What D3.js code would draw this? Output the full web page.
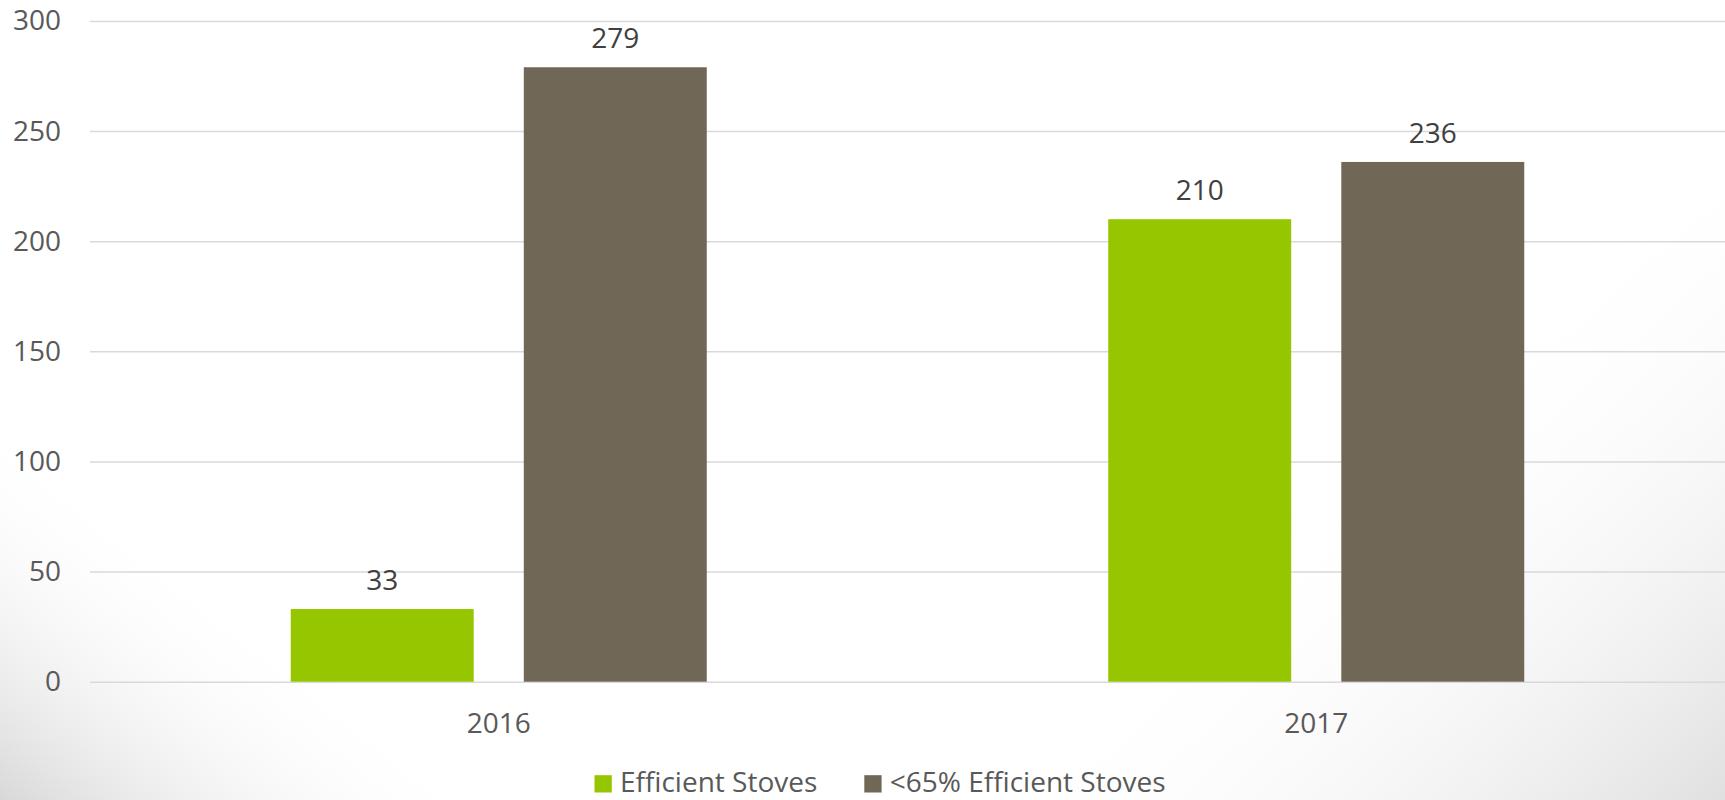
<!DOCTYPE html>
<html>
<head>
<meta charset="utf-8">
<script src="https://cdn.jsdelivr.net/npm/d3@7"></script>
<style>
  body { margin: 0; background: #fff; }
  text { font-family: "Open Sans", "Noto Sans", sans-serif; }
</style>
</head>
<body>
<script>
// Chart data
const years = ["2016", "2017"];
const seriesNames = ["Efficient Stoves", "<65% Efficient Stoves"];
const efficient = [33, 210];
const inefficient = [279, 236];
const yTicks = [0, 50, 100, 150, 200, 250, 300];

const seriesColors = ["#95c600", "#706757"];

const width = 1725;
const height = 800;
const plot = { left: 90, right: 1725, top: 21, bottom: 681.7 };

const svg = d3.select("body")
    .append("svg")
    .attr("width", width)
    .attr("height", height);

// Background shading in the corners
const defs = svg.append("defs");
const shadeBL = defs.append("linearGradient")
    .attr("id", "shadeBL")
    .attr("gradientUnits", "userSpaceOnUse")
    .attr("x1", 0).attr("y1", 800)
    .attr("x2", 190).attr("y2", 560);
shadeBL.append("stop").attr("offset", "0%").attr("stop-color", "#d8d8d8").attr("stop-opacity", 1);
shadeBL.append("stop").attr("offset", "100%").attr("stop-color", "#ffffff").attr("stop-opacity", 0);

const shadeR = defs.append("linearGradient")
    .attr("id", "shadeR")
    .attr("gradientUnits", "userSpaceOnUse")
    .attr("x1", 1725).attr("y1", 800)
    .attr("x2", 1380).attr("y2", 420);
shadeR.append("stop").attr("offset", "0%").attr("stop-color", "#e0e0e0").attr("stop-opacity", 1);
shadeR.append("stop").attr("offset", "100%").attr("stop-color", "#ffffff").attr("stop-opacity", 0);

svg.append("rect").attr("width", width).attr("height", height).attr("fill", "#fff");
svg.append("rect").attr("width", width).attr("height", height).attr("fill", "url(#shadeR)");
svg.append("rect").attr("width", width).attr("height", height).attr("fill", "url(#shadeBL)");

// Scales
const y = d3.scaleLinear()
    .domain([0, 300])
    .range([plot.bottom, plot.top]);

const x0 = d3.scaleBand()
    .domain(years)
    .range([plot.left, plot.right]);

const groupPad = 200.75;
const x1 = d3.scaleBand()
    .domain(seriesNames)
    .range([groupPad, x0.bandwidth() - groupPad])
    .paddingInner(0.215);

// Gridlines + y labels
const yAxis = svg.append("g")
    .attr("transform", `translate(${plot.left},0)`)
    .call(d3.axisLeft(y).tickValues(yTicks).tickSize(-(plot.right - plot.left)).tickPadding(29));
yAxis.select(".domain").remove();
yAxis.selectAll(".tick line")
    .attr("stroke", "#d9d9d9")
    .attr("stroke-width", 1.5);
yAxis.selectAll(".tick text")
    .attr("fill", "#595959")
    .style("font-size", "28px")
    .style("font-family", "'Open Sans', sans-serif");

// Bars
const rows = years.map((yr, i) => ({ year: yr, values: [efficient[i], inefficient[i]] }));

const groups = svg.append("g")
    .selectAll("g")
    .data(rows)
    .enter()
    .append("g")
    .attr("transform", d => `translate(${x0(d.year)},0)`);

groups.selectAll("rect")
    .data(d => d.values.map((v, j) => ({ key: seriesNames[j], value: v, idx: j })))
    .enter()
    .append("rect")
    .attr("x", d => x1(d.key))
    .attr("y", d => y(d.value))
    .attr("width", x1.bandwidth())
    .attr("height", d => y(0) - y(d.value))
    .attr("fill", d => seriesColors[d.idx]);

// Value labels
groups.selectAll("text.value")
    .data(d => d.values.map((v, j) => ({ key: seriesNames[j], value: v })))
    .enter()
    .append("text")
    .attr("class", "value")
    .attr("x", d => x1(d.key) + x1.bandwidth() / 2)
    .attr("y", d => y(d.value) - 19)
    .attr("text-anchor", "middle")
    .attr("fill", "#404040")
    .style("font-size", "28px")
    .text(d => d.value);

// Category labels
svg.append("g")
    .selectAll("text")
    .data(years)
    .enter()
    .append("text")
    .attr("x", d => x0(d) + x0.bandwidth() / 2)
    .attr("y", 733)
    .attr("text-anchor", "middle")
    .attr("fill", "#595959")
    .style("font-size", "28px")
    .text(d => d);

// Legend (kept just inside the bottom edge)
const legendX = [594.5, 864.3];
const legend = svg.append("g")
    .selectAll("g")
    .data(seriesNames)
    .enter()
    .append("g")
    .attr("transform", (d, i) => `translate(${legendX[i]},0)`);

legend.append("rect")
    .attr("x", 0)
    .attr("y", 775.2)
    .attr("width", 17.3)
    .attr("height", 17.3)
    .attr("fill", (d, i) => seriesColors[i]);

legend.append("text")
    .attr("x", 25.5)
    .attr("y", 792.2)
    .attr("fill", "#595959")
    .style("font-size", "28px")
    .text(d => d);
</script>
</body>
</html>
